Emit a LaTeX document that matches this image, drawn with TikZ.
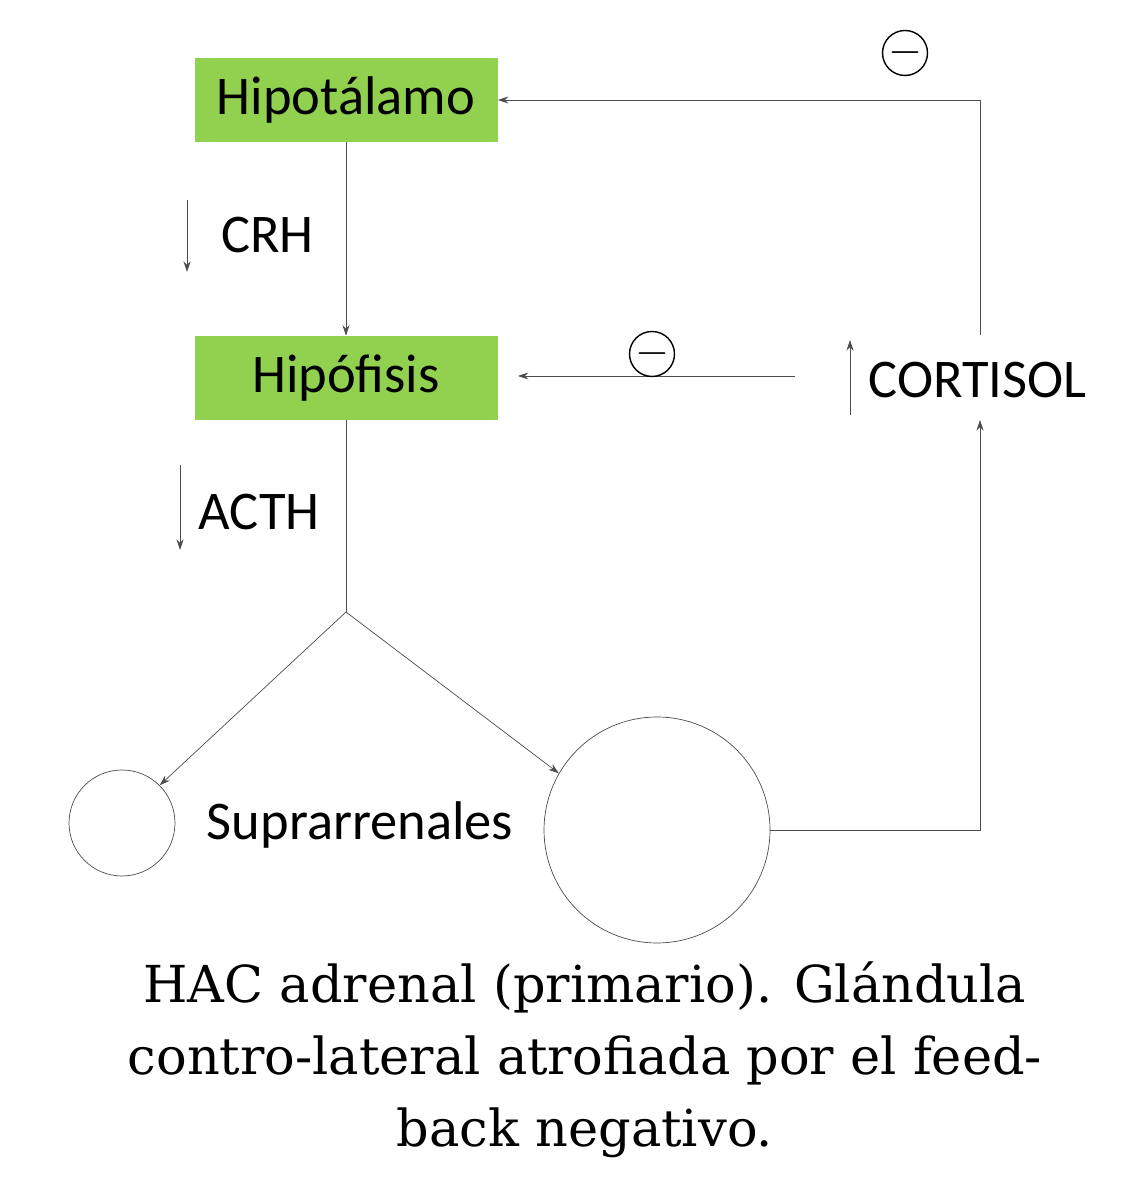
\documentclass[tikz,border=0pt]{standalone}
\usepackage{fontspec}
\setmainfont{Carlito}
\newfontfamily\capfont{DejaVu Serif}
\usetikzlibrary{positioning,arrows.meta}
\tikzset{
  glandula/.style={minimum width=6.06cm, minimum height=1.68cm, font=\fontsize{31}{33}\selectfont},
  flecha/.style={-{Stealth[length=6pt,width=4pt]}, thin, black!70},
  etiqueta/.style={font=\fontsize{31}{33}\selectfont},
  menos/.style={circle, draw, thick, minimum size=0.9cm, inner sep=0pt, font=\fontsize{26}{26}\selectfont},
  adrenal/.style={circle, draw, thin, black!70},
}
\definecolor{verde}{RGB}{146,208,80}
\begin{document}
\begin{tikzpicture}
\useasboundingbox (0,0) rectangle (22.88,24);
\node[glandula, fill=verde] (hipot) at (6.92,22.0) {Hipotálamo};
\node[glandula, fill=verde] (hipof) at (6.92,16.44) {Hipófisis};
\draw[flecha] (hipot) -- (hipof);
% pequeñas flechas de niveles
\coordinate (crh1) at (3.74,20.0); \coordinate (crh2) at (3.74,18.56);
\draw[flecha] (crh1) -- (crh2);
\node[etiqueta, anchor=west] (crh) at (4.3,19.3) {CRH};
\coordinate (acth1) at (3.6,14.7); \coordinate (acth2) at (3.6,13.0);
\draw[flecha] (acth1) -- (acth2);
\node[etiqueta, anchor=west] (acth) at (3.85,13.76) {ACTH};
\coordinate (cor1) at (17.0,15.7); \coordinate (cor2) at (17.0,17.2);
\draw[flecha] (cor1) -- (cor2);
\node[etiqueta, anchor=west] (cortisol) at (17.25,16.4) {CORTISOL};
% suprarrenales
\coordinate (rama) at (6.92,11.76);
\node[adrenal, minimum size=2.12cm] (izq) at (2.44,7.54) {};
\node[adrenal, minimum size=4.52cm] (der) at (13.14,7.4) {};
\node[etiqueta] (supra) at (7.2,7.5) {Suprarrenales};
\draw[thin, black!70] (hipof) -- (rama);
\draw[flecha] (rama) -- (izq.45);
\draw[flecha] (rama) -- (der.150);
% retroalimentación
\coordinate (esq1) at (19.6,7.4);
\coordinate (esq2) at (19.6,22.0);
\coordinate (baja) at (19.6,15.6);
\coordinate (alta) at (19.6,17.3);
\coordinate (ini) at (15.9,16.48);
\draw[flecha] (der.east) -- (esq1) -- (baja);
\draw[flecha] (alta) -- (esq2) -- (hipot.east);
\draw[flecha] (ini) -- ([xshift=0.4cm]hipof.east |- ini);
\node[menos] (m1) at (18.1,22.94) {$-$};
\node[menos] (m2) at (13.04,16.92) {$-$};
% pie
\node[font=\capfont\fontsize{29}{41}\selectfont, align=center] (pie) at (11.7,2.8)
  {HAC adrenal (primario). Glándula\\contro-lateral atrofiada por el feed-\\back negativo.};
\end{tikzpicture}
\end{document}
